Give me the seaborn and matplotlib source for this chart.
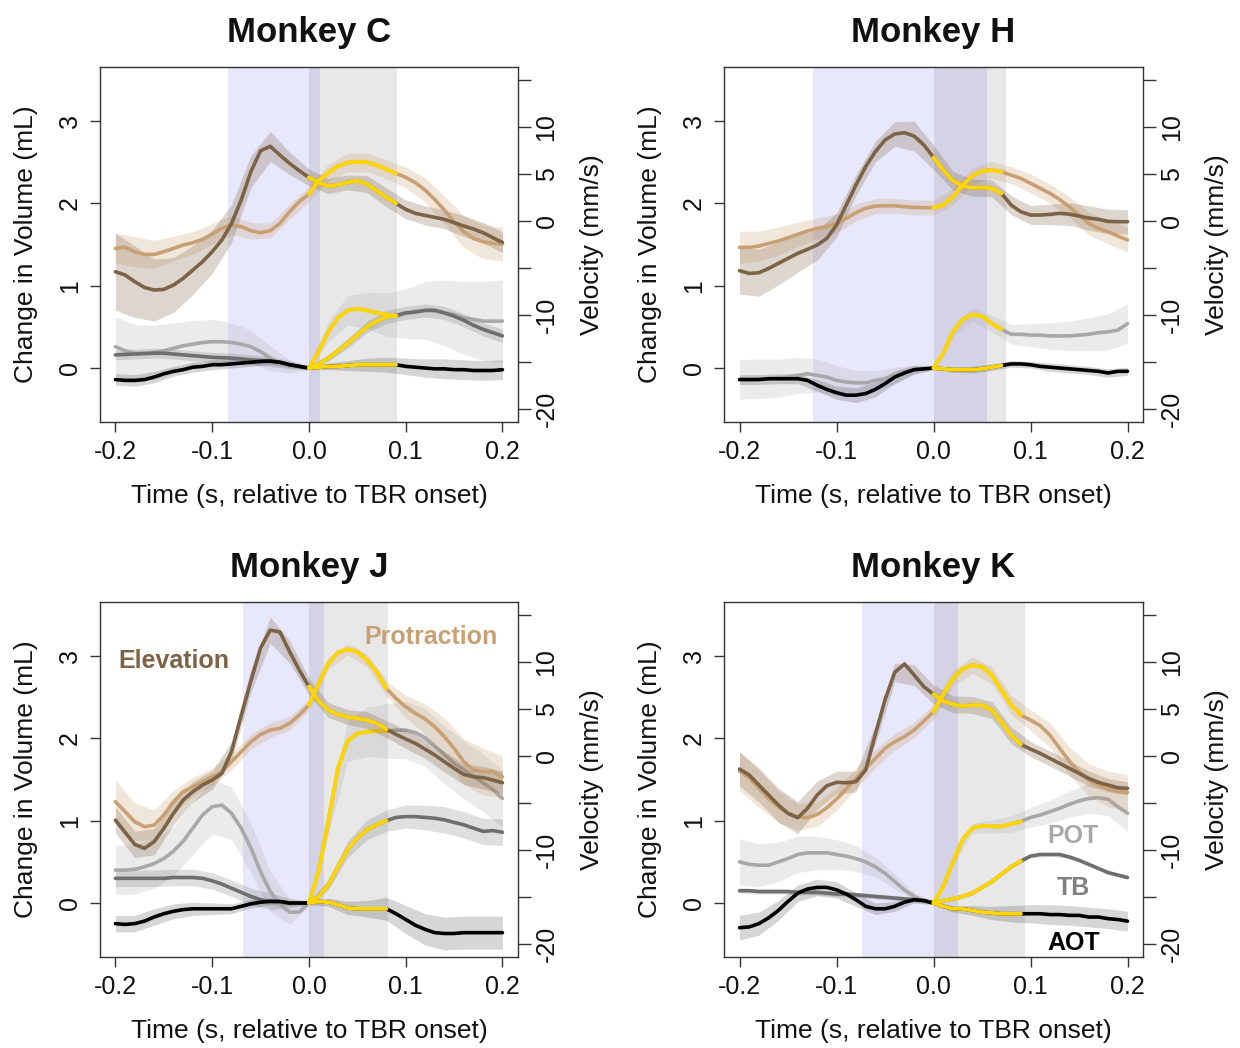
"""
Tongue kinematics around TBR onset, four monkeys.
Volume changes (grey/black, left axis) and velocities (browns, right axis).
"""
import numpy as np
import matplotlib
matplotlib.use("Agg")
import matplotlib.pyplot as plt
import seaborn as sns

# sample times (s, relative to TBR onset)
TIME = np.round(np.arange(-20, 21) / 100, 2)
TIME_BAND = TIME[::2]

# ---- Monkey C ----
C_ELEV = [-5.39, -5.74, -6.45, -7.06, -7.34, -7.27, -6.81, -6.10, -5.21, -4.33, -3.26, -2.02, -0.25, 2.23, 5.25, 7.48, 7.95, 7.02, 6.13, 5.35, 4.65,
          4.08, 3.72, 3.87, 4.11, 4.29, 3.94, 3.23, 2.52, 1.88, 1.24, 0.82, 0.60, 0.39, 0.18, -0.18, -0.53, -0.85, -1.24, -1.77, -2.27]
C_PROT = [-2.91, -2.80, -3.26, -3.55, -3.55, -3.26, -2.91, -2.55, -2.30, -1.95, -1.38, -0.78, -0.43, -0.60, -1.03, -1.24, -1.03, -0.25, 0.99, 2.06, 2.87,
          4.29, 5.14, 5.85, 6.21, 6.31, 6.24, 5.96, 5.50, 5.07, 4.65, 4.08, 3.30, 2.30, 1.17, -0.07, -1.13, -1.84, -2.20, -2.38, -2.45]
C_POT = [0.26, 0.21, 0.18, 0.18, 0.19, 0.21, 0.24, 0.27, 0.29, 0.31, 0.32, 0.32, 0.31, 0.29, 0.26, 0.20, 0.12, 0.06, 0.02, 0.01, 0.00,
         0.20, 0.44, 0.61, 0.70, 0.72, 0.70, 0.67, 0.65, 0.63, 0.66, 0.69, 0.70, 0.70, 0.67, 0.65, 0.61, 0.59, 0.57, 0.57, 0.57]
C_TB = [0.16, 0.165, 0.17, 0.175, 0.18, 0.18, 0.17, 0.16, 0.15, 0.14, 0.13, 0.125, 0.12, 0.11, 0.10, 0.09, 0.08, 0.07, 0.04, 0.02, 0.00,
        0.05, 0.12, 0.21, 0.30, 0.40, 0.50, 0.57, 0.62, 0.64, 0.67, 0.68, 0.70, 0.70, 0.67, 0.63, 0.58, 0.52, 0.47, 0.43, 0.39]
C_AOT = [-0.14, -0.15, -0.15, -0.14, -0.11, -0.07, -0.04, -0.02, 0.01, 0.02, 0.04, 0.04, 0.05, 0.06, 0.07, 0.08, 0.085, 0.07, 0.04, 0.02, 0.00,
         0.01, 0.02, 0.02, 0.03, 0.04, 0.04, 0.04, 0.04, 0.04, 0.02, 0.01, 0.00, -0.01, -0.01, -0.02, -0.02, -0.03, -0.03, -0.03, -0.02]
C_ELEV_SD = [4.1, 3.8, 3.3, 2.9, 2.6, 2.3, 2.0, 1.7, 1.6, 1.2, 0.9, 0.8, 0.8, 0.9, 1.0, 1.0, 1.0, 1.0, 1.1, 1.1, 1.1]
C_PROT_SD = [1.6, 1.6, 1.5, 1.3, 1.2, 1.1, 1.0, 0.9, 0.8, 0.8, 0.8, 0.9, 1.0, 1.0, 1.0, 1.1, 1.3, 1.5, 1.7, 1.8, 1.8]
C_POT_SD = [0.36, 0.35, 0.33, 0.31, 0.29, 0.27, 0.24, 0.20, 0.15, 0.08, 0.02, 0.12, 0.18, 0.22, 0.26, 0.30, 0.35, 0.40, 0.44, 0.48, 0.50]
C_TB_SD = [0.06, 0.06, 0.06, 0.06, 0.06, 0.06, 0.06, 0.06, 0.06, 0.05, 0.02, 0.04, 0.06, 0.07, 0.08, 0.08, 0.08, 0.08, 0.08, 0.08, 0.08]
C_AOT_SD = [0.07, 0.07, 0.07, 0.06, 0.06, 0.06, 0.05, 0.05, 0.04, 0.03, 0.02, 0.04, 0.06, 0.08, 0.09, 0.10, 0.11, 0.12, 0.12, 0.12, 0.12]
C_BLUE = (-0.0835, 0.0113)
C_GREY = (0.0, 0.091)

# ---- Monkey H ----
H_ELEV = [-5.28, -5.57, -5.50, -5.04, -4.50, -3.97, -3.44, -3.01, -2.55, -1.84, -0.43, 1.70, 3.83, 5.78, 7.38, 8.62, 9.26, 9.40, 9.04, 8.09, 6.77,
          5.43, 4.29, 3.72, 3.55, 3.58, 3.48, 2.94, 1.70, 0.99, 0.64, 0.64, 0.71, 0.82, 0.74, 0.53, 0.32, 0.18, -0.04, -0.07, -0.07]
H_PROT = [-2.80, -2.80, -2.66, -2.38, -2.13, -1.77, -1.42, -1.06, -0.78, -0.60, -0.25, 0.28, 0.89, 1.35, 1.60, 1.63, 1.63, 1.52, 1.45, 1.42, 1.42,
          1.70, 2.59, 3.83, 4.79, 5.32, 5.43, 5.25, 4.89, 4.54, 4.01, 3.48, 2.94, 2.30, 1.52, 0.64, -0.25, -0.78, -1.13, -1.60, -2.02]
H_POT = [-0.14, -0.14, -0.13, -0.13, -0.12, -0.11, -0.09, -0.07, -0.09, -0.11, -0.15, -0.17, -0.18, -0.18, -0.15, -0.13, -0.09, -0.04, -0.02, -0.01, 0.00,
         0.18, 0.44, 0.59, 0.65, 0.63, 0.54, 0.47, 0.41, 0.41, 0.40, 0.40, 0.39, 0.39, 0.39, 0.40, 0.41, 0.43, 0.44, 0.46, 0.54]
H_TB = None
H_AOT = [-0.14, -0.14, -0.14, -0.13, -0.13, -0.13, -0.13, -0.15, -0.21, -0.26, -0.30, -0.33, -0.33, -0.31, -0.26, -0.19, -0.11, -0.06, -0.02, -0.01, 0.00,
         -0.01, -0.02, -0.02, -0.02, -0.01, 0.01, 0.03, 0.05, 0.05, 0.04, 0.02, 0.01, 0.00, -0.01, -0.02, -0.03, -0.04, -0.06, -0.04, -0.04]
H_ELEV_SD = [2.5, 2.5, 2.3, 2.0, 1.6, 1.3, 1.1, 1.1, 1.3, 1.6, 1.3, 1.0, 0.9, 0.9, 1.0, 1.0, 1.1, 1.2, 1.3, 1.3, 1.3]
H_PROT_SD = [1.7, 1.6, 1.5, 1.3, 1.1, 1.0, 0.9, 0.8, 0.8, 0.8, 0.8, 0.9, 0.9, 0.9, 0.9, 1.0, 1.0, 1.1, 1.2, 1.3, 1.3]
H_POT_SD = [0.24, 0.24, 0.23, 0.22, 0.20, 0.18, 0.15, 0.12, 0.10, 0.06, 0.02, 0.05, 0.08, 0.10, 0.12, 0.14, 0.16, 0.18, 0.20, 0.22, 0.24]
H_TB_SD = None
H_AOT_SD = [0.06, 0.06, 0.06, 0.06, 0.07, 0.08, 0.09, 0.09, 0.08, 0.05, 0.02, 0.03, 0.04, 0.04, 0.04, 0.04, 0.05, 0.05, 0.05, 0.05, 0.05]
H_BLUE = (-0.124, 0.055)
H_GREY = (0.0, 0.075)

# ---- Monkey J ----
J_ELEV = [-6.81, -8.12, -9.40, -9.82, -9.11, -7.70, -6.10, -4.68, -3.79, -3.09, -2.55, -1.84, 0.50, 4.30, 8.00, 11.50, 13.40, 13.20, 11.10, 9.15, 7.38,
          5.85, 4.89, 4.43, 4.15, 4.01, 3.83, 3.48, 2.87, 2.30, 1.81, 1.35, 0.74, 0.11, -0.60, -1.31, -1.95, -2.20, -2.30, -2.55, -2.84]
J_PROT = [-4.86, -5.92, -6.99, -7.52, -7.34, -6.28, -4.86, -3.79, -3.26, -2.73, -2.20, -1.67, -0.60, 0.46, 1.52, 2.30, 2.77, 2.94, 3.48, 4.36, 5.43,
          7.73, 9.86, 11.03, 11.35, 11.10, 10.21, 8.97, 7.20, 6.13, 5.25, 4.54, 3.94, 3.12, 2.06, 0.82, -0.60, -1.49, -1.67, -1.67, -2.20]
J_POT = [0.40, 0.40, 0.41, 0.44, 0.48, 0.54, 0.63, 0.75, 0.91, 1.07, 1.17, 1.19, 1.09, 0.91, 0.67, 0.38, 0.14, -0.02, -0.11, -0.11, 0.00,
         0.38, 0.99, 1.64, 1.97, 2.06, 2.08, 2.09, 2.09, 2.10, 2.10, 2.07, 2.01, 1.91, 1.80, 1.70, 1.62, 1.54, 1.46, 1.38, 1.27]
J_TB = [0.30, 0.30, 0.30, 0.30, 0.30, 0.30, 0.31, 0.31, 0.31, 0.30, 0.27, 0.23, 0.18, 0.13, 0.08, 0.04, 0.02, 0.01, 0.00, 0.00, 0.00,
        0.08, 0.22, 0.44, 0.65, 0.79, 0.89, 0.95, 1.00, 1.04, 1.05, 1.05, 1.04, 1.03, 1.01, 0.98, 0.95, 0.91, 0.87, 0.88, 0.86]
J_AOT = [-0.25, -0.26, -0.25, -0.22, -0.17, -0.13, -0.10, -0.08, -0.07, -0.07, -0.07, -0.07, -0.07, -0.04, -0.01, 0.01, 0.02, 0.02, 0.00, 0.00, 0.00,
         0.02, 0.01, -0.02, -0.06, -0.07, -0.07, -0.07, -0.07, -0.13, -0.20, -0.27, -0.32, -0.36, -0.37, -0.37, -0.36, -0.36, -0.36, -0.36, -0.36]
J_ELEV_SD = [1.4, 1.4, 1.4, 1.2, 1.1, 1.0, 1.0, 1.2, 1.4, 1.2, 0.9, 0.8, 0.8, 0.9, 0.9, 1.0, 1.0, 1.1, 1.1, 1.2, 1.2]
J_PROT_SD = [2.3, 2.0, 1.6, 1.2, 1.0, 0.9, 0.9, 0.8, 0.8, 0.7, 0.6, 0.6, 0.6, 0.7, 0.8, 1.2, 1.6, 2.0, 2.4, 2.5, 2.2]
J_POT_SD = [0.30, 0.30, 0.30, 0.30, 0.32, 0.33, 0.32, 0.30, 0.25, 0.15, 0.03, 0.15, 0.25, 0.30, 0.33, 0.35, 0.35, 0.35, 0.35, 0.35, 0.35]
J_TB_SD = [0.10, 0.10, 0.10, 0.10, 0.10, 0.10, 0.10, 0.10, 0.10, 0.06, 0.02, 0.06, 0.10, 0.12, 0.13, 0.14, 0.15, 0.16, 0.16, 0.16, 0.16]
J_AOT_SD = [0.10, 0.10, 0.10, 0.09, 0.08, 0.07, 0.06, 0.05, 0.04, 0.03, 0.02, 0.05, 0.08, 0.10, 0.14, 0.17, 0.19, 0.20, 0.20, 0.20, 0.20]
J_BLUE = (-0.068, 0.016)
J_GREY = (0.0, 0.082)

# ---- Monkey K ----
K_ELEV = [-1.38, -2.02, -3.09, -4.15, -5.21, -6.10, -6.56, -5.57, -4.15, -3.16, -2.80, -2.84, -2.73, -1.49, 2.30, 6.00, 8.90, 9.80, 8.62, 7.38, 6.56,
          5.85, 5.50, 5.32, 5.43, 5.43, 4.89, 3.65, 2.23, 1.24, 0.74, 0.28, -0.25, -0.78, -1.31, -1.84, -2.38, -2.80, -3.09, -3.37, -3.44]
K_PROT = [-1.60, -2.30, -3.44, -4.50, -5.39, -6.10, -6.45, -6.56, -6.21, -5.50, -4.57, -3.51, -2.38, -1.31, -0.25, 0.82, 1.52, 2.06, 2.77, 3.72, 4.72,
          6.56, 8.26, 9.26, 9.68, 9.50, 8.62, 7.02, 5.43, 4.36, 3.83, 3.23, 2.23, 0.82, -0.53, -1.67, -2.55, -3.09, -3.51, -3.79, -3.87]
K_POT = [0.50, 0.47, 0.46, 0.46, 0.50, 0.54, 0.59, 0.61, 0.61, 0.61, 0.59, 0.57, 0.54, 0.50, 0.44, 0.36, 0.26, 0.16, 0.08, 0.02, 0.00,
         0.20, 0.50, 0.77, 0.91, 0.94, 0.93, 0.93, 0.96, 0.99, 1.04, 1.07, 1.11, 1.15, 1.20, 1.24, 1.27, 1.28, 1.26, 1.17, 1.09]
K_TB = [0.15, 0.15, 0.14, 0.14, 0.14, 0.14, 0.13, 0.13, 0.13, 0.12, 0.11, 0.11, 0.10, 0.09, 0.08, 0.07, 0.06, 0.05, 0.04, 0.03, 0.00,
        0.03, 0.05, 0.08, 0.12, 0.19, 0.26, 0.35, 0.44, 0.51, 0.57, 0.59, 0.59, 0.59, 0.56, 0.52, 0.47, 0.42, 0.37, 0.34, 0.31]
K_AOT = [-0.30, -0.29, -0.25, -0.18, -0.09, 0.02, 0.12, 0.17, 0.19, 0.19, 0.16, 0.11, 0.04, -0.04, -0.07, -0.07, -0.04, 0.01, 0.04, 0.03, 0.00,
         -0.04, -0.07, -0.07, -0.09, -0.11, -0.12, -0.13, -0.13, -0.13, -0.13, -0.13, -0.14, -0.14, -0.15, -0.15, -0.17, -0.17, -0.19, -0.20, -0.22]
K_ELEV_SD = [1.8, 1.8, 1.8, 1.7, 1.5, 1.2, 1.1, 1.0, 1.0, 1.1, 1.0, 0.9, 0.9, 0.9, 0.9, 0.8, 0.8, 0.8, 0.8, 0.7, 0.7]
K_PROT_SD = [2.1, 2.0, 1.7, 1.4, 1.3, 1.2, 1.1, 1.0, 0.9, 0.8, 0.8, 0.8, 0.9, 0.9, 1.0, 1.1, 1.3, 1.5, 1.7, 1.9, 1.9]
K_POT_SD = [0.28, 0.26, 0.24, 0.22, 0.20, 0.18, 0.16, 0.12, 0.09, 0.05, 0.02, 0.04, 0.06, 0.08, 0.10, 0.12, 0.14, 0.16, 0.18, 0.20, 0.22]
K_TB_SD = [0.03, 0.03, 0.03, 0.03, 0.03, 0.03, 0.03, 0.03, 0.03, 0.03, 0.01, 0.02, 0.02, 0.02, 0.02, 0.02, 0.02, 0.02, 0.02, 0.02, 0.02]
K_AOT_SD = [0.15, 0.14, 0.12, 0.10, 0.10, 0.10, 0.08, 0.07, 0.06, 0.04, 0.02, 0.04, 0.06, 0.08, 0.10, 0.11, 0.12, 0.12, 0.12, 0.12, 0.12]
K_BLUE = (-0.074, 0.025)
K_GREY = (0.0, 0.094)

ELEV_COLOR = "#7d6346"
PROT_COLOR = "#c9a073"
POT_COLOR = "#a8a8a8"
TB_COLOR = "#6e6e6e"
AOT_COLOR = "#000000"
YELLOW = "#ffd500"
FRAME = "#333333"

# panel table: title, axes rect (fig fraction), traces, windows
PANELS = [
    ("Monkey C", [0.0806, 0.5973, 0.3371, 0.3387], C_ELEV, C_PROT, C_POT, C_TB, C_AOT,
     C_ELEV_SD, C_PROT_SD, C_POT_SD, C_TB_SD, C_AOT_SD, C_BLUE, C_GREY),
    ("Monkey H", [0.5839, 0.5973, 0.3379, 0.3387], H_ELEV, H_PROT, H_POT, H_TB, H_AOT,
     H_ELEV_SD, H_PROT_SD, H_POT_SD, H_TB_SD, H_AOT_SD, H_BLUE, H_GREY),
    ("Monkey J", [0.0806, 0.0868, 0.3371, 0.3387], J_ELEV, J_PROT, J_POT, J_TB, J_AOT,
     J_ELEV_SD, J_PROT_SD, J_POT_SD, J_TB_SD, J_AOT_SD, J_BLUE, J_GREY),
    ("Monkey K", [0.5839, 0.0868, 0.3379, 0.3387], K_ELEV, K_PROT, K_POT, K_TB, K_AOT,
     K_ELEV_SD, K_PROT_SD, K_POT_SD, K_TB_SD, K_AOT_SD, K_BLUE, K_GREY),
]


def draw_traces(ax, traces, t_end):
    # shaded bands first, then mean lines, then the yellow window segments
    for mean, sd, color, alpha in traces:
        m = np.asarray(mean)[::2]
        s = np.asarray(sd)
        ax.fill_between(TIME_BAND, m - s, m + s, color=color, alpha=alpha, lw=0, zorder=1)
    for mean, sd, color, alpha in traces:
        sns.lineplot(x=TIME, y=mean, ax=ax, color=color, linewidth=2.6, zorder=2)
    seg = (TIME >= 0) & (TIME <= t_end + 0.004)
    for mean, sd, color, alpha in traces:
        sns.lineplot(x=TIME[seg], y=np.asarray(mean)[seg], ax=ax, color=YELLOW, linewidth=2.8, zorder=3)


sns.set_theme(style="ticks")
plt.rcParams["font.family"] = ["Liberation Sans", "DejaVu Sans"]
plt.rcParams["axes.unicode_minus"] = False

fig = plt.figure(figsize=(12.4, 10.48), dpi=100)

for (title, rect, elev, prot, pot, tb, aot, elev_sd, prot_sd, pot_sd, tb_sd, aot_sd, blue, grey) in PANELS:
    ax = fig.add_axes(rect)
    ax.set_xlim(-0.216, 0.216)
    ax.set_ylim(-0.656, 3.656)
    ax.axvspan(blue[0], blue[1], color="#e8e8fc", lw=0, zorder=0)
    ax.axvspan(grey[0], grey[1], color="black", alpha=0.09, lw=0, zorder=0)

    vol_traces = [(pot, pot_sd, POT_COLOR, 0.22)]
    if tb is not None:
        vol_traces.append((tb, tb_sd, TB_COLOR, 0.22))
    vol_traces.append((aot, aot_sd, AOT_COLOR, 0.16))
    draw_traces(ax, vol_traces, grey[1])

    ax2 = ax.twinx()
    ax2.set_ylim(-21.38, 16.38)
    vel_traces = [(prot, prot_sd, PROT_COLOR, 0.26), (elev, elev_sd, ELEV_COLOR, 0.26)]
    draw_traces(ax2, vel_traces, grey[1])
    ax2.set_xlim(-0.216, 0.216)

    # frame and ticks (base-R look)
    for sp in ax.spines.values():
        sp.set_visible(True)
        sp.set_color(FRAME)
        sp.set_linewidth(1.0)
    for sp in ax2.spines.values():
        sp.set_visible(False)

    ax.set_xticks([-0.2, -0.1, 0.0, 0.1, 0.2])
    ax.set_xticklabels(["-0.2", "-0.1", "0.0", "0.1", "0.2"])
    ax.set_yticks([0, 1, 2, 3])
    ax.set_yticklabels(["0", "1", "2", "3"], rotation=90, va="center")
    ax.tick_params(axis="both", direction="out", length=7, width=1, color=FRAME,
                   labelsize=18, pad=6, labelcolor="#111111")
    ax.tick_params(axis="y", right=False, left=True)
    ax.tick_params(axis="x", top=False, bottom=True)

    vel_ticks = [-20, -15, -10, -5, 0, 5, 10, 15]
    vel_labels = ["-20", "", "-10", "", "0", "5", "10", ""]
    ax2.set_yticks(vel_ticks)
    ax2.set_yticklabels(vel_labels, rotation=90, va="center")
    ax2.tick_params(axis="y", direction="out", length=9, width=1, color=FRAME,
                    labelsize=18, pad=3, labelcolor="#111111", right=True, left=False)

    ax.set_xlabel("Time (s, relative to TBR onset)", fontsize=19, color="#111111")
    ax.xaxis.set_label_coords(0.5, -0.208)
    ax.xaxis.label.set_va("center")
    ax.set_ylabel("Change in Volume (mL)", fontsize=19, color="#111111")
    ax.yaxis.set_label_coords(-0.177, 0.5)
    ax.yaxis.label.set_va("center")
    ax2.set_ylabel("Velocity (mm/s)", fontsize=19, color="#111111")
    ax2.yaxis.set_label_coords(1.177, 0.5)
    ax2.yaxis.label.set_va("center")

    ax.text(0.5, 1.070, title, transform=ax.transAxes, ha="center", va="baseline",
            fontsize=25, fontweight="bold", color="#111111")

    if title == "Monkey J":
        ax.text(-0.140, 2.94, "Elevation", color=ELEV_COLOR, fontsize=18,
                fontweight="bold", ha="center", va="center", zorder=5)
        ax.text(0.126, 3.23, "Protraction", color=PROT_COLOR, fontsize=18,
                fontweight="bold", ha="center", va="center", zorder=5)
    if title == "Monkey K":
        ax.text(0.144, 0.82, "POT", color=POT_COLOR, fontsize=18,
                fontweight="bold", ha="center", va="center", zorder=5)
        ax.text(0.144, 0.18, "TB", color="#808080", fontsize=18,
                fontweight="bold", ha="center", va="center", zorder=5)
        ax.text(0.144, -0.49, "AOT", color=AOT_COLOR, fontsize=18,
                fontweight="bold", ha="center", va="center", zorder=5)

fig.savefig("out.png", dpi=100)
plt.close(fig)
